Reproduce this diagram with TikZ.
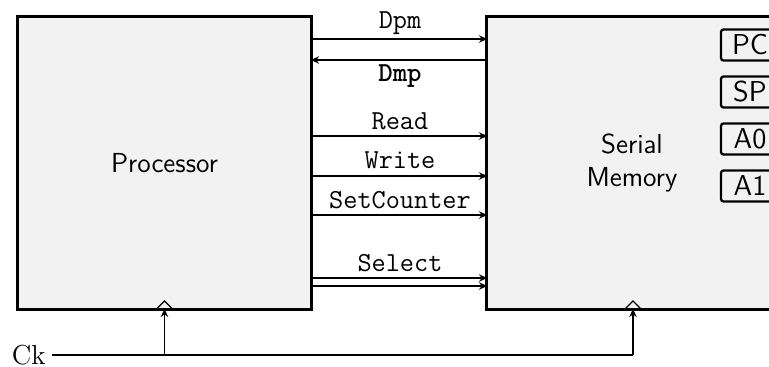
\documentclass[tikz,border=0pt]{standalone}
\usetikzlibrary{arrows.meta}
\begin{document}
\begin{tikzpicture}[x=0.4pt,y=-0.4pt,
  blk/.style={draw,line width=1.2pt,fill=black!5,inner sep=0pt,outer sep=0pt},
  sig/.style={-{Stealth[length=3.2pt,width=3pt]},line width=0.45pt},
  lab/.style={font=\fontsize{11}{13}\selectfont\ttfamily,inner sep=1pt},
  sf/.style={font=\fontsize{11}{13}\selectfont\sffamily,align=center},
  reg/.style={draw,line width=0.9pt,rounded corners=1pt,fill=black!5,minimum width=23.2pt,minimum height=12.4pt,inner sep=0pt,font=\fontsize{11.5}{13}\selectfont\sffamily}]
\useasboundingbox (0,0) rectangle (769,367);
\node[blk,minimum width=117.2pt,minimum height=117.2pt] (proc) at (164.5,162.5) {};
\node[blk,minimum width=116.8pt,minimum height=117.2pt] (mem) at (633,162.5) {};
\node[sf] (proct) at (164.5,163) {Processor};
\node[sf] (memt) at (632,163) {Serial\\Memory};
\node[reg] (pc) at (750,45) {PC};
\node[reg] (sp) at (750,92) {SP};
\node[reg] (a0) at (750,139) {A0};
\node[reg] (a1) at (750,186) {A1};
% signals
\draw[sig] (proc.east |- 0,39) -- (mem.west |- 0,39);
\draw[sig] (mem.west |- 0,60) -- (proc.east |- 0,60);
\draw[sig] (proc.east |- 0,136) -- (mem.west |- 0,136);
\draw[sig] (proc.east |- 0,176) -- (mem.west |- 0,176);
\draw[sig] (proc.east |- 0,215) -- (mem.west |- 0,215);
\draw[sig] (proc.east |- 0,278) -- (mem.west |- 0,278);
\draw[sig] (proc.east |- 0,286) -- (mem.west |- 0,286);
\node[lab] (ldpm) at (400,23) {Dpm};
\node[lab,font=\fontsize{11}{13}\selectfont\ttfamily\bfseries] (ldmp) at (400,76) {Dmp};
\node[lab] (lread) at (400,121) {Read};
\node[lab] (lwrite) at (400,160) {Write};
\node[lab] (lset) at (400,200) {SetCounter};
\node[lab] (lsel) at (400,263) {Select};
% clock triangles
\draw[line width=0.45pt] (proc.south) ++(-8,0) -- ++(8,-8) -- ++(8,8);
\draw[line width=0.45pt] (mem.south) ++(-8,0) -- ++(8,-8) -- ++(8,8);
% clock
\node[font=\fontsize{11}{13}\selectfont\rmfamily,inner sep=1pt,anchor=west] (ck) at (9,355) {Ck};
\draw[line width=0.45pt] (ck.east) ++(3,0) -- (mem.south |- ck);
\draw[sig] (proc.south |- ck) -- (proc.south);
\draw[sig] (mem.south |- ck) -- (mem.south);
\end{tikzpicture}
\end{document}
